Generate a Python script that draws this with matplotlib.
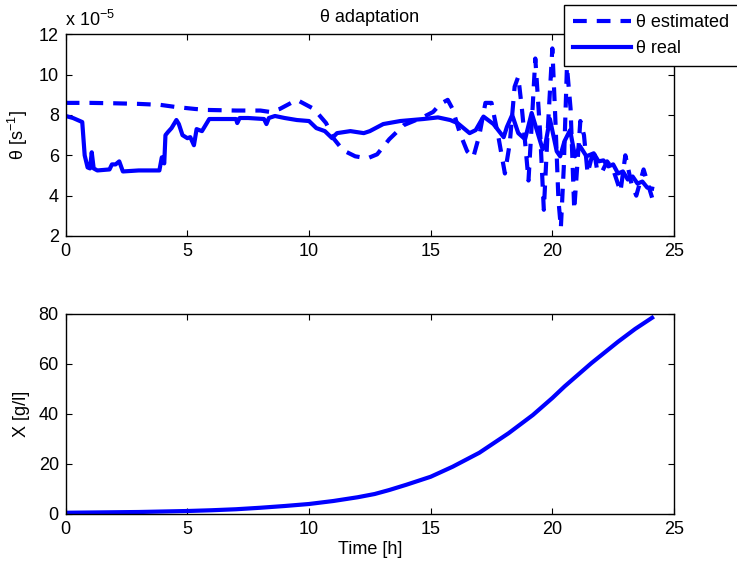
import numpy as np
import matplotlib
matplotlib.use("Agg")
import matplotlib.pyplot as plt

plt.rcParams['font.family'] = ['Liberation Sans', 'DejaVu Sans']
plt.rcParams['mathtext.fontset'] = 'custom'
plt.rcParams['mathtext.rm'] = 'Liberation Sans'
plt.rcParams['mathtext.it'] = 'Liberation Sans:italic'

# theta values in units of 1e-5 s^-1
t_real = [0, 0.3, 0.68, 0.78, 0.9, 1.0, 1.07, 1.15, 1.3, 1.8, 1.9, 2.05, 2.2, 2.35,
          3.0, 3.85, 3.95, 4.05, 4.1, 4.2, 4.35, 4.55, 4.65, 4.8, 5.0, 5.12, 5.27,
          5.38, 5.6, 5.75, 5.9, 6.5, 7.0, 7.05, 7.15, 7.5, 8.15, 8.25, 8.35, 8.6,
          9.0, 9.5, 10.0, 10.3, 10.65, 10.95, 11.15, 11.7, 12.25, 12.5, 13.05, 13.75,
          14.7, 15.3, 15.8, 16.1, 16.6, 16.85, 17.17, 17.58, 18.0, 18.13, 18.35, 18.6,
          18.88, 19.15, 19.4, 19.6, 19.7, 19.9, 20.18, 20.32, 20.5, 20.73, 20.93,
          21.14, 21.4, 21.7, 21.9, 22.1, 22.3, 22.5, 22.7, 22.9, 23.1, 23.3, 23.5,
          23.7, 23.9, 24.1]
theta_real = [7.95, 7.85, 7.65, 6.0, 5.4, 5.35, 6.15, 5.35, 5.25, 5.3, 5.55, 5.55,
              5.7, 5.2, 5.25, 5.25, 5.9, 5.6, 7.0, 7.15, 7.35, 7.75, 7.55, 7.0, 6.85,
              6.9, 6.5, 7.3, 7.2, 7.5, 7.8, 7.8, 7.8, 7.6, 7.85, 7.85, 7.8, 7.55, 7.85,
              7.95, 7.85, 7.75, 7.7, 7.35, 7.2, 6.85, 7.1, 7.2, 7.1, 7.2, 7.55, 7.7,
              7.8, 7.88, 7.75, 7.6, 7.1, 7.25, 7.92, 7.55, 6.9, 7.4, 8.0, 7.1, 6.8,
              8.1, 7.1, 6.3, 6.45, 7.8, 6.2, 5.95, 6.7, 7.25, 5.95, 6.45, 5.95, 6.1,
              5.7, 5.75, 5.45, 5.55, 5.1, 5.2, 4.8, 4.95, 4.6, 4.7, 4.4, 4.35]

t_est = [0, 1, 2, 3, 3.9, 4.5, 5.3, 5.8, 7, 8, 8.4, 8.8, 9.5, 10.2, 10.7, 11.0,
         11.4, 11.9, 12.4, 12.8, 13.3, 13.9, 14.7, 15.1, 15.4, 15.7, 15.9, 16.2,
         16.5, 16.75, 17.0, 17.25, 17.5, 17.8, 18.05, 18.25, 18.45, 18.6, 18.75,
         18.9, 19.02, 19.15, 19.3, 19.5, 19.65, 19.8, 20.0, 20.12, 20.25, 20.35,
         20.47, 20.6, 20.75, 20.9, 21.15, 21.3, 21.45, 21.7, 21.85, 22.05, 22.25,
         22.5, 22.8, 23.0, 23.25, 23.45, 23.75, 24.1]
theta_est = [8.6, 8.6, 8.58, 8.55, 8.5, 8.4, 8.3, 8.25, 8.22, 8.22, 8.15, 8.3, 8.75,
             8.3, 7.6, 6.85, 6.25, 5.95, 5.85, 6.05, 6.8, 7.5, 7.9, 8.15, 8.55, 8.75,
             8.3, 7.1, 6.2, 5.9, 7.0, 8.6, 8.6, 6.8, 5.1, 6.6, 9.4, 9.9, 8.3, 6.4,
             4.75, 7.5, 10.8, 7.1, 3.3, 7.0, 11.3, 7.9, 3.8, 2.4, 5.4, 10.4, 8.3, 3.3,
             7.7, 7.0, 5.1, 6.3, 5.2, 5.2, 5.7, 5.3, 4.2, 6.0, 4.6, 4.0, 5.3, 3.9]

# biomass concentration [g/l]
t_x = [0, 1, 2, 3, 4, 5, 6, 7, 8, 9, 10, 11, 12, 12.7, 13.3, 14, 15, 15.9, 17,
       18.2, 19.2, 20, 20.5, 21.6, 22.7, 23.4, 24.1]
biomass = [0.5, 0.6, 0.7, 0.8, 1.0, 1.2, 1.5, 1.9, 2.5, 3.2, 4.0, 5.2, 6.7, 8.0,
           9.6, 11.7, 14.9, 18.9, 24.5, 32.3, 39.6, 46.4, 51.0, 60.3, 68.9, 74.0,
           78.5]

W, H = 737, 567
fig = plt.figure(figsize=(W / 100, H / 100), dpi=100)
ax1 = fig.add_axes([65.7 / W, 1 - 236 / H, (674 - 65.7) / W, (236 - 34.3) / H])
ax2 = fig.add_axes([65.7 / W, 1 - 514 / H, (674 - 65.7) / W, 200 / H])

blue = (0, 0, 1)
fs = 13

l_est, = ax1.plot(t_est, theta_est, color=blue, lw=3, ls=(0, (3.3, 2.4)),
                  label='θ estimated')
l_real, = ax1.plot(t_real, theta_real, color=blue, lw=3, label='θ real')
ax2.plot(t_x, biomass, color=blue, lw=3)

ax1.set_xlim(0, 25)
ax1.set_ylim(2, 12)
ax1.set_yticks([2, 4, 6, 8, 10, 12])
ax1.set_xticks([0, 5, 10, 15, 20, 25])
ax2.set_xlim(0, 25)
ax2.set_ylim(0, 80)
ax2.set_yticks([0, 20, 40, 60, 80])
ax2.set_xticks([0, 5, 10, 15, 20, 25])

for ax in (ax1, ax2):
    ax.tick_params(direction='in', length=4, width=0.8, top=True, right=True,
                   labelsize=fs, pad=5)
    for s in ax.spines.values():
        s.set_linewidth(1.0)

ax1.set_ylabel('θ [s$^{-1}$]', fontsize=fs, labelpad=6)
ax2.set_ylabel('X [g/l]', fontsize=fs, labelpad=6)
ax2.set_xlabel('Time [h]', fontsize=fs, labelpad=2)
ax1.set_title('θ adaptation', fontsize=fs, pad=9)
fig.text(65 / W, 1 - 26 / H, 'x 10$^{-5}$', fontsize=fs, ha='left', va='baseline')

fig.legend(handles=[l_est, l_real], loc='upper left',
           bbox_to_anchor=(564 / W, 1 - 5 / H), borderaxespad=0,
           fancybox=False, edgecolor='black', framealpha=1, fontsize=13,
           handlelength=3.2, handletextpad=0.3, borderpad=0.5, labelspacing=0.5)

fig.savefig('out.png', dpi=100)
